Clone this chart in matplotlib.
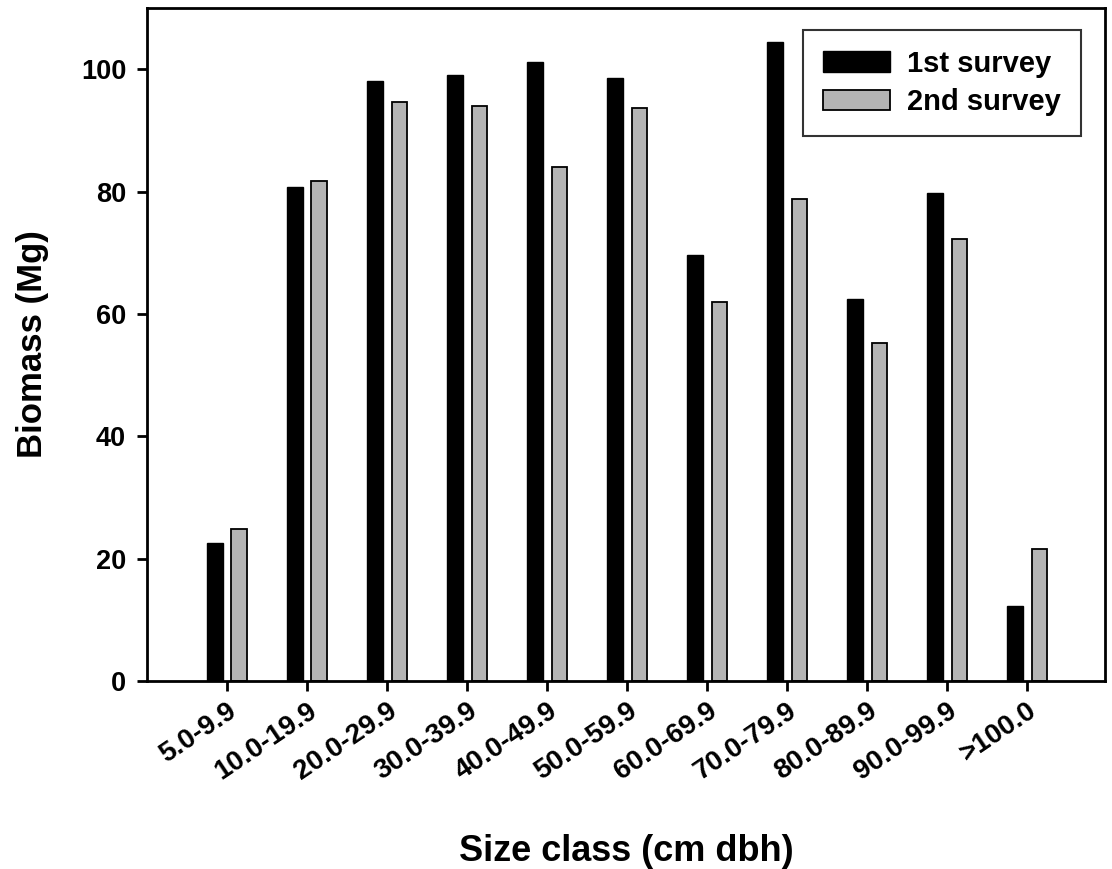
import numpy as np
import matplotlib
matplotlib.use('Agg')
import matplotlib.pyplot as plt

plt.rcParams['font.family'] = ['Liberation Sans', 'DejaVu Sans']
plt.rcParams['font.weight'] = 'bold'

# data
size_classes = ['5.0-9.9', '10.0-19.9', '20.0-29.9', '30.0-39.9', '40.0-49.9',
                '50.0-59.9', '60.0-69.9', '70.0-79.9', '80.0-89.9', '90.0-99.9', '>100.0']
survey_1 = [22.5, 80.7, 98.1, 99.0, 101.2, 98.6, 69.7, 104.4, 62.5, 79.7, 12.2]
survey_2 = [24.8, 81.7, 94.6, 93.9, 84.0, 93.7, 62.0, 78.7, 55.2, 72.3, 21.6]
y_ticks = [0, 20, 40, 60, 80, 100]

x = np.arange(len(size_classes))

fig = plt.figure(figsize=(11.12, 8.69), dpi=100)
ax = fig.add_axes([0.1322, 0.2164, 0.8615, 0.7744])

ax.bar(x - 0.15, survey_1, width=0.2, color='black', edgecolor='black',
       linewidth=1, label='1st survey')
ax.bar(x + 0.15, survey_2, width=0.19, color='#b4b4b4', edgecolor='black',
       linewidth=1.3, label='2nd survey')

ax.set_xlim(-1, 10.97)
ax.set_ylim(0, 110)
ax.set_yticks(y_ticks)
ax.set_xticks(x)
ax.set_xticklabels(size_classes, rotation=34, ha='right', rotation_mode='anchor',
                   fontsize=20)

for s in ax.spines.values():
    s.set_linewidth(2)
ax.tick_params(axis='both', direction='out', length=7, width=2)
ax.tick_params(axis='y', pad=8, labelsize=19.5)
ax.tick_params(axis='x', pad=5)

ax.set_ylabel('Biomass (Mg)', fontsize=25, fontweight='bold')
ax.yaxis.set_label_coords(-0.1024, 0.5)
ax.set_xlabel('Size class (cm dbh)', fontsize=26, fontweight='bold')
ax.xaxis.set_label_coords(0.5, -0.227)

leg = ax.legend(loc='upper right', bbox_to_anchor=(0.975, 0.967), fontsize=21,
                frameon=True, fancybox=False, edgecolor='black',
                handlelength=2.3, handleheight=0.72, borderpad=0.68,
                labelspacing=0.35, handletextpad=0.6, borderaxespad=0)
leg.get_frame().set_linewidth(1.5)

fig.savefig('out.png', dpi=100)
